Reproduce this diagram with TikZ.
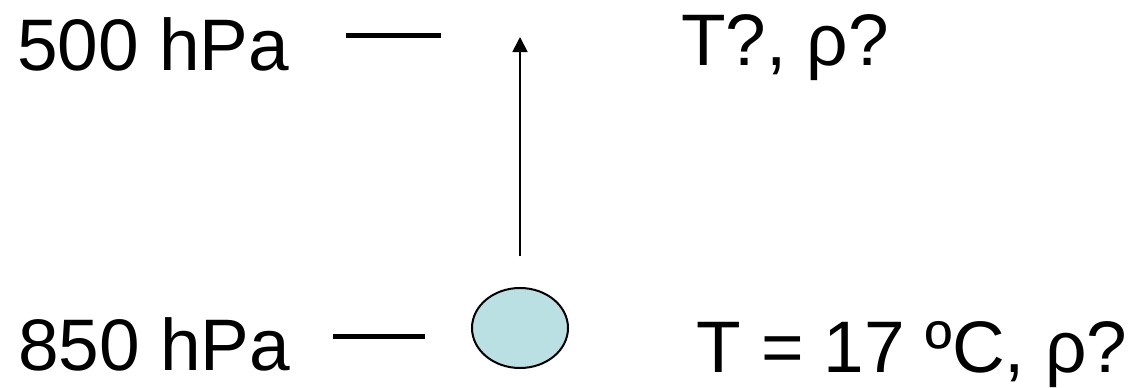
\documentclass[tikz,border=0pt]{standalone}
\usepackage{fontspec}
\setmainfont{Liberation Sans}
\usetikzlibrary{arrows.meta}
\definecolor{parcel}{HTML}{BBE0E3}
\tikzset{
  lbl/.style={anchor=base west, inner sep=0pt, font=\fontsize{73}{80}\selectfont},
  level/.style={line width=5pt},
  rise/.style={line width=1.8pt, -{Triangle[width=15pt,length=15pt]}},
  parcelbox/.style={ellipse, draw, line width=2pt, fill=parcel, minimum width=96pt, minimum height=80pt, inner sep=0pt}
}
\usetikzlibrary{shapes.geometric}
\begin{document}
\begin{tikzpicture}[x=1pt,y=-1pt]
\useasboundingbox (0,0) rectangle (1136,388);
\node[lbl] (p500) at (17,70) {500 hPa};
\node[lbl] (p850) at (18,370) {850 hPa};
\node[lbl] (t500) at (681,65) {T?, ρ?};
\node[lbl] (t850) at (696,372) {T = 17 ºC, ρ?};
\coordinate (d1a) at (346,35);
\coordinate (d1b) at (441,35);
\coordinate (d2a) at (333,336);
\coordinate (d2b) at (425,336);
\draw[level] (d1a) -- (d1b);
\draw[level] (d2a) -- (d2b);
\node[parcelbox] (parcel) at (520,328) {};
\coordinate (astart) at (520,256);
\coordinate (atip) at (520,37);
\draw[rise] (astart) -- (atip);
\end{tikzpicture}
\end{document}
